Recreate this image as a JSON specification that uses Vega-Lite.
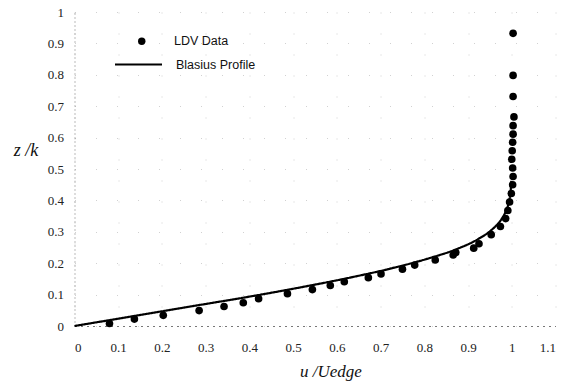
{
  "$schema": "https://vega.github.io/schema/vega-lite/v6.json",
  "autosize": {"type": "none"},
  "width": 481,
  "height": 314,
  "padding": {"left": 74.5, "top": 12, "right": 9.5, "bottom": 61},
  "background": "white",
  "datasets": {
    "ldv": [
      {"series": "LDV Data", "u": 0.080, "z": 0.008},
      {"series": "LDV Data", "u": 0.137, "z": 0.022},
      {"series": "LDV Data", "u": 0.203, "z": 0.034},
      {"series": "LDV Data", "u": 0.285, "z": 0.049},
      {"series": "LDV Data", "u": 0.342, "z": 0.062},
      {"series": "LDV Data", "u": 0.386, "z": 0.074},
      {"series": "LDV Data", "u": 0.421, "z": 0.087},
      {"series": "LDV Data", "u": 0.487, "z": 0.103},
      {"series": "LDV Data", "u": 0.544, "z": 0.116},
      {"series": "LDV Data", "u": 0.585, "z": 0.129},
      {"series": "LDV Data", "u": 0.617, "z": 0.141},
      {"series": "LDV Data", "u": 0.672, "z": 0.154},
      {"series": "LDV Data", "u": 0.701, "z": 0.166},
      {"series": "LDV Data", "u": 0.750, "z": 0.181},
      {"series": "LDV Data", "u": 0.778, "z": 0.194},
      {"series": "LDV Data", "u": 0.825, "z": 0.210},
      {"series": "LDV Data", "u": 0.866, "z": 0.226},
      {"series": "LDV Data", "u": 0.872, "z": 0.234},
      {"series": "LDV Data", "u": 0.913, "z": 0.248},
      {"series": "LDV Data", "u": 0.925, "z": 0.262},
      {"series": "LDV Data", "u": 0.953, "z": 0.291},
      {"series": "LDV Data", "u": 0.974, "z": 0.317},
      {"series": "LDV Data", "u": 0.986, "z": 0.342},
      {"series": "LDV Data", "u": 0.991, "z": 0.368},
      {"series": "LDV Data", "u": 0.995, "z": 0.395},
      {"series": "LDV Data", "u": 0.999, "z": 0.422},
      {"series": "LDV Data", "u": 1.002, "z": 0.450},
      {"series": "LDV Data", "u": 1.003, "z": 0.476},
      {"series": "LDV Data", "u": 1.002, "z": 0.503},
      {"series": "LDV Data", "u": 1.000, "z": 0.531},
      {"series": "LDV Data", "u": 1.001, "z": 0.558},
      {"series": "LDV Data", "u": 1.002, "z": 0.585},
      {"series": "LDV Data", "u": 1.003, "z": 0.611},
      {"series": "LDV Data", "u": 1.003, "z": 0.638},
      {"series": "LDV Data", "u": 1.005, "z": 0.666},
      {"series": "LDV Data", "u": 1.003, "z": 0.731},
      {"series": "LDV Data", "u": 1.003, "z": 0.798},
      {"series": "LDV Data", "u": 1.003, "z": 0.932}
    ],
    "blasius": [
      {"series": "Blasius Profile", "u": 0.0, "z": 0.0},
      {"series": "Blasius Profile", "u": 0.1328, "z": 0.031},
      {"series": "Blasius Profile", "u": 0.2647, "z": 0.062},
      {"series": "Blasius Profile", "u": 0.3938, "z": 0.092},
      {"series": "Blasius Profile", "u": 0.5168, "z": 0.123},
      {"series": "Blasius Profile", "u": 0.6298, "z": 0.154},
      {"series": "Blasius Profile", "u": 0.7290, "z": 0.185},
      {"series": "Blasius Profile", "u": 0.8115, "z": 0.216},
      {"series": "Blasius Profile", "u": 0.8761, "z": 0.246},
      {"series": "Blasius Profile", "u": 0.9233, "z": 0.277},
      {"series": "Blasius Profile", "u": 0.9555, "z": 0.308},
      {"series": "Blasius Profile", "u": 0.9759, "z": 0.339},
      {"series": "Blasius Profile", "u": 0.9878, "z": 0.370},
      {"series": "Blasius Profile", "u": 0.9943, "z": 0.400},
      {"series": "Blasius Profile", "u": 0.9975, "z": 0.431},
      {"series": "Blasius Profile", "u": 0.9990, "z": 0.462}
    ]
  },
  "config": {
    "view": {"stroke": null},
    "font": "Liberation Serif",
    "axis": {
      "labelFont": "Liberation Serif",
      "labelFontSize": 13,
      "labelColor": "#222",
      "labelOverlap": false,
      "titleFont": "Liberation Serif",
      "titleColor": "#111",
      "titleFontWeight": "normal",
      "gridColor": "#999",
      "gridDash": [1, 20],
      "gridWidth": 1,
      "gridOpacity": 0.45,
      "tickSize": 0,
      "domainColor": "#777"
    }
  },
  "encoding": {
    "x": {
      "field": "u", "type": "quantitative",
      "scale": {"domain": [0, 1.1], "nice": false, "zero": false},
      "axis": {
        "values": [0, 0.1, 0.2, 0.3, 0.4, 0.5, 0.6, 0.7, 0.8, 0.9, 1, 1.1],
        "format": ".1~f",
        "labelPadding": 15,
        "domainDash": [2, 4],
        "title": "u /Uedge",
        "titleFontSize": 17,
        "titleFontStyle": "italic",
        "titleX": 256,
        "titleY": 50,
        "titleBaseline": "alphabetic"
      }
    },
    "y": {
      "field": "z", "type": "quantitative",
      "scale": {"domain": [0, 1], "nice": false, "zero": false},
      "axis": {
        "values": [0, 0.1, 0.2, 0.3, 0.4, 0.5, 0.6, 0.7, 0.8, 0.9, 1],
        "format": ".1~f",
        "labelPadding": 11,
        "domainDash": [1, 3],
        "title": "z /k",
        "titleAngle": 0,
        "titleFontSize": 18,
        "titleFontStyle": "italic",
        "titleX": -49,
        "titleY": 138,
        "titleAlign": "center",
        "titleBaseline": "middle"
      }
    }
  },
  "layer": [
    {
      "data": {"name": "blasius"},
      "mark": {"type": "line", "color": "black", "strokeWidth": 2.2, "interpolate": "monotone"},
      "encoding": {
        "strokeDash": {
          "field": "series", "type": "nominal",
          "scale": {"domain": ["Blasius Profile"], "range": [[1, 0]]},
          "legend": {
            "orient": "none", "legendX": 39.5, "legendY": 28,
            "title": null,
            "symbolType": "stroke",
            "symbolSize": 2209,
            "symbolStrokeWidth": 2,
            "symbolStrokeColor": "black",
            "labelOffset": 13,
            "labelFont": "Liberation Sans",
            "labelFontSize": 12.5,
            "labelColor": "#111"
          }
        }
      }
    },
    {
      "data": {"name": "ldv"},
      "mark": {"type": "point", "filled": true, "color": "black", "size": 58, "opacity": 1},
      "encoding": {
        "shape": {
          "field": "series", "type": "nominal",
          "scale": {"domain": ["LDV Data"], "range": ["circle"]},
          "legend": {
            "orient": "none", "legendX": 61, "legendY": 23,
            "title": null,
            "symbolSize": 55,
            "symbolFillColor": "black",
            "symbolStrokeColor": "black",
            "symbolOpacity": 1,
            "labelOffset": 26,
            "labelFont": "Liberation Sans",
            "labelFontSize": 12.5,
            "labelColor": "#111"
          }
        }
      }
    }
  ]
}
